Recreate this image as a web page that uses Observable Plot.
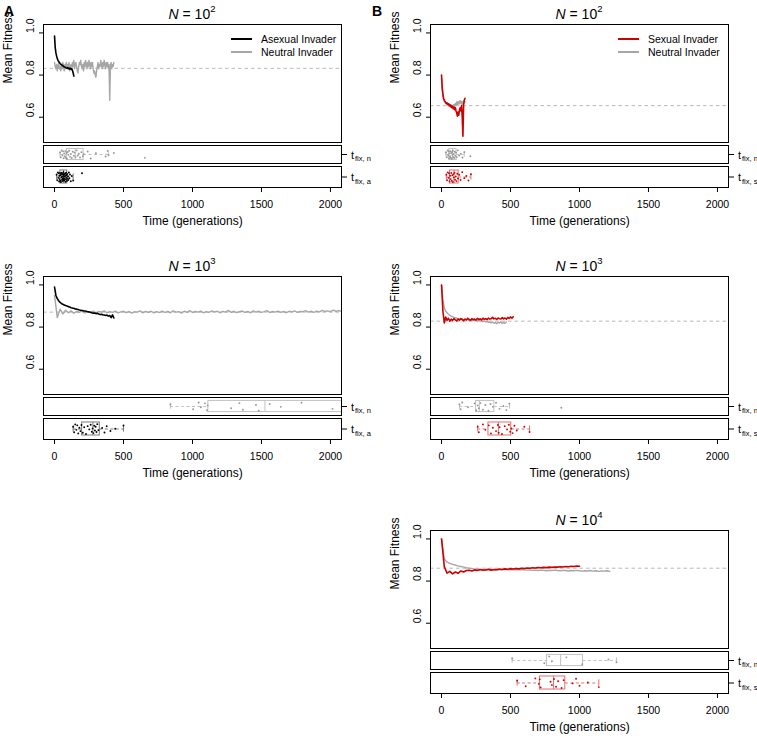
<!DOCTYPE html>
<html>
<head>
<meta charset="utf-8">
<script src="https://cdn.jsdelivr.net/npm/d3@7"></script>
<script src="https://cdn.jsdelivr.net/npm/@observablehq/plot@0.6"></script>
<style>
  body { margin: 0; background: #fff; }
  #fig { position: relative; width: 757px; height: 738px; overflow: hidden; background: #fff;
         font-family: "Liberation Sans", Arial, Helvetica, sans-serif; color: #000; }
  .ttl { position: absolute; width: 298px; text-align: center; font-size: 14px; line-height: 17px; white-space: nowrap; }
  .ttl .sup { font-size: 9.5px; position: relative; top: -7px; }
  .plab { position: absolute; font-weight: bold; font-size: 14px; line-height: 16px; }
  .leg { position: absolute; font-size: 10.5px; line-height: 13px; white-space: nowrap; }
  .legline { position: absolute; height: 2px; width: 21px; }
</style>
</head>
<body>
<div id="fig"></div>
<script>
// ---------------- data ----------------
const xTicks = [0, 500, 1000, 1500, 2000];
const yTicks = [0.6, 0.8, 1.0];
const titles = ["2", "3", "2", "3", "4"];
const legendA = ["Asexual Invader", "Neutral Invader"];
const legendB = ["Sexual Invader", "Neutral Invader"];

// Panel A, N = 10^2
const A1_invaderStep = 5;
const A1_invader = [0.985, 0.93, 0.905, 0.89, 0.878, 0.87, 0.864, 0.86, 0.855, 0.852, 0.849, 0.846, 0.845, 0.841, 0.84, 0.838, 0.836, 0.834, 0.833, 0.835, 0.83, 0.833, 0.828, 0.832, 0.827, 0.83, 0.822, 0.81, 0.795];
const A1_neutralStep = 5;
const A1_neutral = [0.86, 0.84, 0.83, 0.85, 0.82, 0.84, 0.86, 0.83, 0.84, 0.82,
  0.85, 0.83, 0.86, 0.84, 0.82, 0.85, 0.83, 0.86, 0.84, 0.85,
  0.83, 0.86, 0.82, 0.84, 0.85, 0.83, 0.86, 0.84, 0.87, 0.83,
  0.85, 0.86, 0.84, 0.82, 0.81, 0.84, 0.86, 0.85, 0.87, 0.84,
  0.83, 0.85, 0.82, 0.86, 0.84, 0.87, 0.85, 0.83, 0.86, 0.84,
  0.87, 0.85, 0.83, 0.86, 0.84, 0.86, 0.83, 0.81, 0.82, 0.80,
  0.79, 0.82, 0.84, 0.86, 0.83, 0.85, 0.84, 0.87, 0.85, 0.83,
  0.86, 0.84, 0.87, 0.85, 0.83, 0.86, 0.84, 0.86, 0.83, 0.85,
  0.68, 0.84, 0.86, 0.83, 0.85, 0.84, 0.86];
const A1_equilibrium = 0.832;
const A1_tfixNeutral = [40, 45, 52, 58, 62, 66, 70, 74, 78, 82, 86, 90, 95, 100, 106, 112, 118, 125, 132, 140, 146, 152, 160, 168, 176, 185, 195, 205, 212, 240, 262, 300, 370, 385, 392, 430, 655];
const A1_boxNeutral = [40, 90, 150, 210, 390];
const A1_tfixInvader = [15, 20, 24, 28, 30, 33, 35, 37, 40, 42, 44, 46, 48, 50, 52, 54, 55, 57, 59, 60, 62, 63, 65, 66, 68, 70, 71, 73, 75, 77, 79, 80, 82, 84, 86, 88, 90, 92, 95, 98, 100, 104, 108, 112, 118, 125, 135, 199];
const A1_boxInvader = [15, 42, 65, 92, 135];

// Panel A, N = 10^3
const A2_invaderStep = 10;
const A2_invader = [0.99, 0.95, 0.935, 0.925, 0.917, 0.912, 0.908, 0.905, 0.902, 0.9, 0.897, 0.895, 0.892, 0.89, 0.889, 0.886, 0.885, 0.883, 0.881, 0.88, 0.879, 0.877, 0.876, 0.875, 0.873, 0.872, 0.87, 0.868, 0.866, 0.867, 0.864, 0.865, 0.862, 0.86, 0.861, 0.858, 0.857, 0.855, 0.857, 0.852, 0.855, 0.845, 0.858, 0.843];
const A2_neutralStep = 20;
const A2_neutral = [0.95, 0.845, 0.885, 0.862, 0.880, 0.868, 0.877, 0.866, 0.874, 0.870,
  0.878, 0.867, 0.873, 0.869, 0.876, 0.865, 0.874, 0.871, 0.877, 0.868,
  0.873, 0.870, 0.876, 0.867, 0.872, 0.875, 0.869, 0.874, 0.866, 0.873,
  0.871, 0.877, 0.868, 0.874, 0.870, 0.875, 0.867, 0.873, 0.869, 0.876,
  0.870, 0.874, 0.868, 0.877, 0.871, 0.873, 0.866, 0.875, 0.870, 0.878,
  0.869, 0.874, 0.871, 0.876, 0.868, 0.873, 0.870, 0.877, 0.872, 0.875,
  0.868, 0.874, 0.871, 0.879, 0.870, 0.875, 0.869, 0.873, 0.876, 0.870,
  0.874, 0.868, 0.877, 0.871, 0.875, 0.870, 0.873, 0.878, 0.869, 0.874,
  0.871, 0.876, 0.870, 0.874, 0.868, 0.875, 0.872, 0.877, 0.870, 0.874,
  0.873, 0.878, 0.871, 0.875, 0.870, 0.876, 0.872, 0.879, 0.874, 0.877,
  0.873, 0.880, 0.875, 0.878, 0.874];
const A2_equilibrium = 0.871;
const A2_tfixNeutral = [840, 1005, 1045, 1060, 1090, 1105, 1110, 1280, 1340, 1365, 1460, 1480, 1560, 1640, 1790, 2015];
const A2_boxNeutral = [840, 1115, 1525, 2120, 2120];
const A2_tfixInvader = [135, 142, 150, 158, 165, 172, 180, 188, 195, 205, 215, 228, 240, 252, 262, 270, 276, 282, 288, 293, 298, 304, 310, 318, 345, 362, 378, 405, 440, 500];
const A2_boxInvader = [135, 200, 278, 328, 500];

// Panel B, N = 10^2
const B1_invaderStep = 5;
const B1_invader = [0.80, 0.74, 0.71, 0.69, 0.68, 0.675, 0.67, 0.665, 0.668, 0.66, 0.664, 0.655, 0.66, 0.65, 0.655, 0.645, 0.652, 0.64, 0.648, 0.635, 0.645, 0.63, 0.62, 0.605, 0.625, 0.61, 0.635, 0.645, 0.63, 0.655, 0.60, 0.51, 0.66, 0.68, 0.69];
const B1_neutralStep = 5;
const B1_neutral = [0.78, 0.73, 0.70, 0.685, 0.675, 0.67, 0.668, 0.662, 0.665, 0.66, 0.658, 0.662, 0.655, 0.66, 0.652, 0.658, 0.65, 0.655, 0.66, 0.65, 0.665, 0.655, 0.672, 0.66, 0.675, 0.662, 0.67, 0.68, 0.665, 0.675, 0.66, 0.672, 0.678, 0.668, 0.675];
const B1_equilibrium = 0.655;
const B1_tfixNeutral = [32, 38, 44, 48, 52, 55, 58, 61, 64, 67, 70, 73, 76, 79, 82, 85, 88, 92, 96, 100, 105, 110, 118, 128, 140, 152, 165, 209];
const B1_boxNeutral = [32, 56, 80, 109, 165];
const B1_tfixInvader = [35, 40, 45, 50, 54, 58, 62, 66, 70, 74, 78, 82, 86, 90, 94, 98, 103, 108, 114, 120, 128, 138, 150, 165, 180, 195, 213];
const B1_boxInvader = [35, 61, 90, 124, 213];

// Panel B, N = 10^3
const B2_invaderStep = 10;
const B2_invader = [1.0, 0.875, 0.82, 0.848, 0.832, 0.842, 0.828, 0.838, 0.831, 0.84,
  0.834, 0.829, 0.838, 0.833, 0.84, 0.835, 0.83, 0.838, 0.834, 0.842,
  0.836, 0.832, 0.84, 0.835, 0.838, 0.833, 0.841, 0.836, 0.839, 0.834,
  0.842, 0.837, 0.84, 0.835, 0.843, 0.838, 0.84, 0.846, 0.839, 0.842,
  0.836, 0.843, 0.84, 0.838, 0.845, 0.839, 0.843, 0.837, 0.846, 0.841,
  0.848, 0.842, 0.849];
const B2_neutralStep = 10;
const B2_neutral = [1.0, 0.93, 0.89, 0.875, 0.868, 0.86, 0.856, 0.852, 0.85, 0.846,
  0.845, 0.842, 0.84, 0.838, 0.836, 0.838, 0.834, 0.837, 0.833, 0.836,
  0.832, 0.835, 0.831, 0.834, 0.83, 0.833, 0.829, 0.832, 0.828, 0.83,
  0.826, 0.829, 0.824, 0.827, 0.822, 0.825, 0.82, 0.824, 0.818, 0.822,
  0.816, 0.823, 0.819, 0.825, 0.817, 0.822, 0.818, 0.824];
const B2_equilibrium = 0.828;
const B2_tfixNeutral = [130, 138, 150, 192, 240, 252, 262, 270, 282, 300, 318, 340, 355, 372, 395, 420, 448, 470, 492, 868];
const B2_boxNeutral = [130, 250, 274, 383, 492];
const B2_tfixInvader = [262, 270, 300, 318, 342, 358, 372, 395, 408, 414, 420, 438, 458, 475, 488, 498, 506, 515, 528, 545, 600, 638];
const B2_boxInvader = [262, 340, 412, 505, 638];

// Panel B, N = 10^4
const B3_invaderStep = 20;
const B3_invader = [1.0, 0.868, 0.838, 0.846, 0.834, 0.843, 0.837, 0.848, 0.843, 0.850,
  0.851, 0.848, 0.853, 0.85, 0.855, 0.851, 0.853, 0.856, 0.852, 0.855,
  0.854, 0.857, 0.855, 0.858, 0.856, 0.859, 0.857, 0.86, 0.858, 0.861,
  0.86, 0.862, 0.861, 0.863, 0.862, 0.864, 0.863, 0.865, 0.864, 0.866,
  0.865, 0.867, 0.866, 0.868, 0.867, 0.869, 0.868, 0.87, 0.869, 0.871,
  0.87];
const B3_neutralStep = 20;
const B3_neutral = [1.0, 0.905, 0.89, 0.884, 0.879, 0.876, 0.872, 0.869, 0.866, 0.863,
  0.861, 0.859, 0.857, 0.856, 0.855, 0.854, 0.855, 0.853, 0.855, 0.854,
  0.855, 0.853, 0.854, 0.856, 0.854, 0.855, 0.853, 0.854, 0.855, 0.853,
  0.854, 0.852, 0.853, 0.851, 0.852, 0.85, 0.852, 0.851, 0.849, 0.851,
  0.85, 0.852, 0.85, 0.849, 0.851, 0.85, 0.848, 0.85, 0.849, 0.851,
  0.849, 0.847, 0.849, 0.848, 0.85, 0.847, 0.849, 0.846, 0.848, 0.847,
  0.849, 0.846];
const B3_equilibrium = 0.861;
const B3_tfixNeutral = [512, 745, 780, 800, 905, 1020, 1210, 1268];
const B3_boxNeutral = [512, 764, 863, 1025, 1268];
const B3_tfixInvader = [548, 610, 680, 705, 712, 718, 790, 800, 815, 830, 845, 870, 885, 950, 975, 1000, 1060, 1140];
const B3_boxInvader = [548, 713, 812, 897, 1140];

// fixed vertical jitter pattern for strip points (strip y units)
const jitter = [0.22, -0.31, 0.44, -0.08, 0.35, -0.42, 0.12, -0.2, 0.38, -0.36, 0.16, -0.47, 0.27, -0.04, 0.41, -0.26, 0.05, -0.39, 0.31, -0.14, 0.21, -0.29, 0.46, -0.11, 0.09, -0.34, 0.26, -0.19, 0.03, 0.33, -0.45, 0.14, -0.23, 0.4, -0.06, 0.18, -0.37, 0.29, -0.16, 0.07, -0.28, 0.43, -0.12, 0.24, -0.41, 0.1, -0.33, 0.36];

// ---------------- styling / layout ----------------
const FONT = '"Liberation Sans", Arial, Helvetica, sans-serif';
const GREY = "#a6a6a6";
const RED = "#cd0000";
const XDOM = [-80, 2080];
const colX = [0, 387], colW = [378, 370], rowY = [0, 252, 506];
const FL = 43, FR = 341;

const styles = {
  neutral: {line: GREY, pts: "#959595", box: "#c2c2c2", sub: "fix, n"},
  asexual: {line: "#000000", pts: "#000000", box: "#7a7a7a", sub: "fix, a"},
  sexual: {line: RED, pts: RED, box: "#e27070", sub: "fix, s"}
};

const panels = [
  {col: 0, row: 0, label: "A", legend: legendA, inv: "asexual", invader: A1_invader, invStep: A1_invaderStep, neutral: A1_neutral, neuStep: A1_neutralStep, eq: A1_equilibrium, tN: A1_tfixNeutral, bN: A1_boxNeutral, tI: A1_tfixInvader, bI: A1_boxInvader, exp: titles[0]},
  {col: 0, row: 1, inv: "asexual", invader: A2_invader, invStep: A2_invaderStep, neutral: A2_neutral, neuStep: A2_neutralStep, eq: A2_equilibrium, tN: A2_tfixNeutral, bN: A2_boxNeutral, tI: A2_tfixInvader, bI: A2_boxInvader, exp: titles[1]},
  {col: 1, row: 0, label: "B", legend: legendB, inv: "sexual", invader: B1_invader, invStep: B1_invaderStep, neutral: B1_neutral, neuStep: B1_neutralStep, eq: B1_equilibrium, tN: B1_tfixNeutral, bN: B1_boxNeutral, tI: B1_tfixInvader, bI: B1_boxInvader, exp: titles[2]},
  {col: 1, row: 1, inv: "sexual", invader: B2_invader, invStep: B2_invaderStep, neutral: B2_neutral, neuStep: B2_neutralStep, eq: B2_equilibrium, tN: B2_tfixNeutral, bN: B2_boxNeutral, tI: B2_tfixInvader, bI: B2_boxInvader, exp: titles[3]},
  {col: 1, row: 2, inv: "sexual", invader: B3_invader, invStep: B3_invaderStep, neutral: B3_neutral, neuStep: B3_neutralStep, eq: B3_equilibrium, tN: B3_tfixNeutral, bN: B3_boxNeutral, tI: B3_tfixInvader, bI: B3_boxInvader, exp: titles[4]}
];

const fig = document.getElementById("fig");

function place(el, left, top) {
  el.style.position = "absolute";
  el.style.left = left + "px";
  el.style.top = top + "px";
  fig.appendChild(el);
}

function series(vals, step) { return vals.map((v, i) => ({t: i * step, v})); }

function mainPlot(p) {
  const W = colW[p.col];
  const st = styles[p.inv];
  return Plot.plot({
    width: W, height: 143,
    marginLeft: FL, marginRight: W - FR, marginTop: 24, marginBottom: 1,
    x: {domain: XDOM, axis: null, label: null},
    y: {domain: [0.48, 1.04], axis: null, label: null},
    style: {fontFamily: FONT, fontSize: "10.5px", background: "transparent", overflow: "visible", color: "#000"},
    marks: [
      Plot.ruleY([p.eq], {stroke: "#b8b8b8", strokeWidth: 1, strokeDasharray: "3.5,3"}),
      Plot.line(series(p.neutral, p.neuStep), {x: "t", y: "v", stroke: GREY, strokeWidth: 1.4, clip: true}),
      Plot.line(series(p.invader, p.invStep), {x: "t", y: "v", stroke: st.line, strokeWidth: 1.6, clip: true}),
      Plot.axisY({ticks: yTicks, tickSize: 4, tickFormat: () => "", label: null}),
      Plot.text(yTicks, {y: d => d, frameAnchor: "left", dx: -13, rotate: -90, text: d => d.toFixed(1), fontSize: 10.5, fill: "#000"}),
      Plot.text(["Mean Fitness"], {frameAnchor: "left", dx: -35.5, rotate: -90, text: d => d, fontSize: 12, fill: "#000"}),
      Plot.frame({stroke: "#000"})
    ]
  });
}

function stripPlot(p, kind, times, box, last) {
  const W = colW[p.col];
  const st = styles[kind];
  const h = last ? 21 : 18;
  const mb = last ? 48 : 1;
  const marks = [
    Plot.ruleY([box], {y: 0, x1: d => d[0], x2: d => d[1], stroke: st.box, strokeDasharray: "3,2.5", clip: true}),
    Plot.ruleY([box], {y: 0, x1: d => d[3], x2: d => d[4], stroke: st.box, strokeDasharray: "3,2.5", clip: true}),
    Plot.ruleX([box], {x: d => d[0], y1: -0.3, y2: 0.3, stroke: st.box, clip: true}),
    Plot.ruleX([box], {x: d => d[4], y1: -0.3, y2: 0.3, stroke: st.box, clip: true}),
    Plot.rect([box], {x1: d => d[1], x2: d => d[3], y1: -0.62, y2: 0.62, fill: "none", stroke: st.box, clip: true}),
    Plot.ruleX([box], {x: d => d[2], y1: -0.62, y2: 0.62, stroke: st.box, clip: true}),
    Plot.dot(times, {x: d => d, y: (d, i) => jitter[i % jitter.length], r: 0.95, fill: st.pts, stroke: "none", clip: true}),
    Plot.axisY({anchor: "right", ticks: [0], tickSize: 5, tickFormat: () => "", label: null}),
    Plot.text(["t"], {frameAnchor: "right", dx: 9.5, dy: 0.5, textAnchor: "start", text: d => d, fontSize: 11, fill: "#000"}),
    Plot.text([st.sub], {frameAnchor: "right", dx: 13.5, dy: 4.5, textAnchor: "start", text: d => d, fontSize: 7.5, fill: "#000"}),
    Plot.frame({stroke: "#000"})
  ];
  if (last) {
    marks.push(
      Plot.axisX({ticks: xTicks, tickSize: 5, tickPadding: 8, tickFormat: d => String(d), label: null, fontSize: 10.5}),
      Plot.text(["Time (generations)"], {frameAnchor: "bottom", dy: 37, text: d => d, fontSize: 12, fill: "#000"})
    );
  }
  return Plot.plot({
    width: W, height: 1 + h + mb,
    marginLeft: FL, marginRight: W - FR, marginTop: 1, marginBottom: mb,
    x: {domain: XDOM, axis: null, label: null},
    y: {domain: [-1, 1], axis: null, label: null},
    style: {fontFamily: FONT, fontSize: "10.5px", background: "transparent", overflow: "visible", color: "#000"},
    marks
  });
}

for (const p of panels) {
  const X = colX[p.col], Y = rowY[p.row];
  place(mainPlot(p), X, Y);
  place(stripPlot(p, "neutral", p.tN, p.bN, false), X, Y + 144);
  place(stripPlot(p, p.inv, p.tI, p.bI, true), X, Y + 165);

  const t = document.createElement("div");
  t.className = "ttl";
  t.innerHTML = '<i>N</i> = 10<span class="sup">' + p.exp + '</span>';
  place(t, X + FL, Y + 6);

  if (p.label) {
    const l = document.createElement("div");
    l.className = "plab";
    l.textContent = p.label;
    place(l, p.col === 0 ? 4 : 372, Y + 3);
  }
  if (p.legend) {
    const cols = [styles[p.inv].line, GREY];
    p.legend.forEach((txt, i) => {
      const ln = document.createElement("div");
      ln.className = "legline";
      ln.style.background = cols[i];
      place(ln, X + 231, Y + 38 + i * 13);
      const tx = document.createElement("div");
      tx.className = "leg";
      tx.textContent = txt;
      place(tx, X + 261, Y + 32.5 + i * 13);
    });
  }
}
</script>
</body>
</html>
